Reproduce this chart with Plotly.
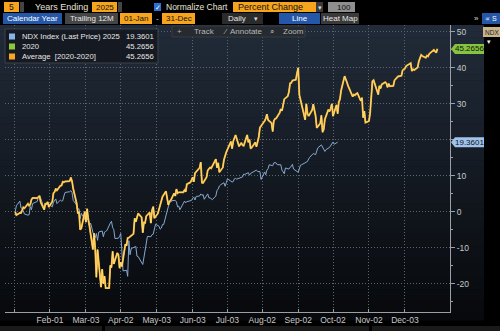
import plotly.graph_objects as go

# ---------------- data ----------------
# trading days per month (day numbers), 2020 and 2025
trading_days_2020 = [
    "2 3 6 7 8 9 10 13 14 15 16 17 21 22 23 24 27 28 29 30 31",
    "3 4 5 6 7 10 11 12 13 14 18 19 20 21 24 25 26 27 28",
    "2 3 4 5 6 9 10 11 12 13 16 17 18 19 20 23 24 25 26 27 30 31",
    "1 2 3 6 7 8 9 13 14 15 16 17 20 21 22 23 24 27 28 29 30",
    "1 4 5 6 7 8 11 12 13 14 15 18 19 20 21 22 26 27 28 29",
    "1 2 3 4 5 8 9 10 11 12 15 16 17 18 19 22 23 24 25 26 29 30",
    "1 2 6 7 8 9 10 13 14 15 16 17 20 21 22 23 24 27 28 29 30 31",
    "3 4 5 6 7 10 11 12 13 14 17 18 19 20 21 24 25 26 27 28 31",
    "1 2 3 4 8 9 10 11 14 15 16 17 18 21 22 23 24 25 28 29 30",
    "1 2 5 6 7 8 9 12 13 14 15 16 19 20 21 22 23 26 27 28 29 30",
    "2 3 4 5 6 9 10 11 12 13 16 17 18 19 20 23 24 25 27 30",
    "1 2 3 4 7 8 9 10 11 14 15 16 17 18 21 22 23 24 28 29 30 31",
]
trading_days_2025 = [
    "2 3 6 7 8 10 13 14 15 16 17 21 22 23 24 27 28 29 30 31",
    "3 4 5 6 7 10 11 12 13 14 18 19 20 21 24 25 26 27 28",
    "3 4 5 6 7 10 11 12 13 14 17 18 19 20 21 24 25 26 27 28 31",
    "1 2 3 4 7 8 9 10 11 14 15 16 17 21 22 23 24 25 28 29 30",
    "1 2 5 6 7 8 9 12 13 14 15 16 19 20 21 22 23 27 28 29 30",
    "2 3 4 5 6 9 10 11 12 13 16 17 18 20 23 24 25 26 27 30",
    "1 2 3 7 8 9 10 11 14 15 16 17 18 21 22 23 24 25 28 29 30 31",
    "1 4 5 6 7 8 11 12 13 14 15 18 19 20 21 22 25 26 27 28 29",
    "2 3 4 5 8 9 10 11 12 15 16 17 18 19 22 23 24 25 26 29 30",
    "1 2 3 6",
]

# NDX, percent change since first trading day of the year
pct_2020 = [
    0.00, -0.89, -0.27, -0.30, 0.45, 1.26, 1.02, 2.26, 1.73, 2.03, 3.40, 3.89, 3.81, 4.03, 4.46, 2.69, 0.61, 2.24, 2.20, 2.76, 1.34,
    2.87, 5.22, 5.58, 6.45, 5.96, 7.27, 7.35, 8.35, 8.23, 8.46, 8.54, 9.53, 8.54, 6.47, 2.33, -0.43, 0.05, -4.92, -4.62,
    0.05, -2.84, 0.86, -2.13, -3.85, -10.42, -5.96, -10.37, -18.14, -10.50, -20.88, -15.93, -19.90, -17.86, -21.17, -21.16, -14.87, -15.42, -10.98, -14.46, -11.39, -11.94,
    -15.61, -13.95, -15.15, -8.96, -9.40, -7.24, -7.15, -6.10, -1.81, -2.76, -1.11, -0.45, -1.52, -5.75, -2.95, -3.05, -1.19, -0.17, -3.10, 0.47, 1.44,
    -1.74, -0.43, 0.81, 1.60, 2.76, 4.21, 5.72, 3.59, 1.96, 2.91, 3.15, 5.16, 4.42, 6.34, 5.20, 5.43, 5.46, 6.08, 5.59, 7.70,
    8.18, 8.81, 9.62, 8.36, 10.73, 11.87, 12.18, 13.77, 8.13, 8.07, 9.63, 11.54, 12.11, 12.33, 12.11, 14.26, 14.65, 12.28, 13.61, 11.01, 12.34, 14.48,
    15.97, 16.58, 19.52, 17.60, 19.61, 20.62, 21.36, 18.20, 18.91, 19.18, 18.49, 18.38, 21.37, 19.34, 20.05, 17.60, 17.90, 19.30, 18.10, 19.60, 20.80, 23.40,
    24.60, 25.26, 25.89, 27.14, 25.55, 24.69, 22.35, 25.32, 25.84, 25.97, 27.53, 28.59, 28.06, 30.01, 31.31, 32.13, 33.28, 35.72, 35.82, 36.49, 36.70,
    38.54, 39.99, 32.47, 31.01, 25.58, 29.98, 27.27, 26.62, 28.27, 29.89, 28.22, 26.64, 23.30, 24.57, 26.81, 22.14, 22.96, 25.71, 28.39, 27.89, 28.69,
    30.0, 26.6, 29.7, 27.3, 30.5, 31.3, 33.7, 37.7, 37.0, 36.0, 35.0, 34.2, 32.0, 32.6, 32.4, 32.8, 33.0, 30.8, 31.7, 26.2, 28.0, 24.8,
    25.2, 27.4, 32.8, 36.3, 36.6, 34.0, 32.6, 35.0, 34.3, 35.4, 36.0, 35.7, 34.6, 35.6, 34.9, 35.0, 36.5, 36.9, 37.6, 37.8,
    39.3, 39.6, 39.8, 40.5, 41.0, 41.3, 39.1, 39.6, 39.4, 40.1, 41.8, 42.6, 43.6, 43.3, 42.8, 43.4, 43.2, 43.9, 45.0, 44.6, 44.2, 45.2656,
]
pct_2025 = [
    0.0, 1.7, 3.0, 1.1, 1.0, -0.6, -0.9, -0.8, 1.5, 0.6, 2.3, 2.9, 4.2, 4.4, 3.8, 0.8, 2.4, 2.2, 2.5, 2.2,
    1.4, 2.7, 3.1, 3.6, 2.3, 3.3, 3.0, 3.1, 4.4, 5.4, 5.6, 5.9, 5.4, 3.2, 1.9, 0.7, 0.9, -1.9, -0.4,
    -2.6, -2.3, -1.0, -3.8, -3.1, -6.9, -7.2, -6.0, -7.9, -5.6, -5.3, -6.9, -5.6, -5.4, -5.2, -3.1, -2.6, -4.4, -4.9, -7.4, -7.3,
    -6.8, -6.0, -10.9, -16.4, -16.2, -17.9, -8.0, -11.9, -10.2, -9.7, -9.6, -12.3, -12.4, -14.6, -12.4, -10.2, -7.8, -6.8, -6.9, -6.3, -6.2,
    -4.8, -3.4, -4.0, -4.8, -4.5, -3.5, -3.5, 0.4, 2.0, 2.7, 2.7, 3.1, 3.2, 2.8, 1.4, 1.6, 0.6, 3.0, 2.5, 2.9, 2.9,
    3.2, 3.8, 4.1, 3.3, 4.3, 4.4, 5.0, 4.6, 4.8, 3.5, 5.0, 3.9, 3.9, 3.4, 4.4, 6.0, 6.3, 7.2, 7.5, 8.1,
    7.1, 8.1, 9.2, 8.3, 8.4, 9.2, 9.3, 9.1, 9.4, 9.6, 9.7, 10.5, 10.4, 10.9, 10.2, 10.7, 10.9, 11.2, 11.6, 11.2, 11.3, 11.2,
    9.0, 11.1, 10.3, 11.6, 12.0, 13.1, 12.8, 13.6, 13.7, 13.6, 13.1, 13.1, 11.6, 11.0, 10.6, 12.2, 11.9, 12.4, 12.6, 13.2, 11.9,
    11.0, 11.9, 13.0, 13.1, 13.7, 14.0, 14.0, 14.7, 15.2, 16.2, 16.1, 15.9, 16.9, 17.8, 18.6, 17.8, 17.4, 16.8, 17.3, 17.9, 18.3,
    18.9, 19.4, 18.8, 19.3601,
]
pct_average = list(pct_2020)  # average over [2020-2020] is the 2020 path itself

tick_dates = ["01-01", "02-01", "03-03", "04-02", "05-03", "06-03", "07-03",
              "08-02", "09-02", "10-02", "11-02", "12-03"]
tick_labels = ["", "Feb-01", "Mar-03", "Apr-02", "May-03", "Jun-03", "Jul-03",
               "Aug-02", "Sep-02", "Oct-02", "Nov-02", "Dec-03"]
y_ticks = [-20, -10, 0, 10, 20, 30, 40, 50]
# the 20 label sits under the 2025 last-value tag
y_labels = ["-20", "-10", "0", "10", "", "30", "40", "50"]

legend_rows = [
    ("NDX Index (Last Price) 2025", "19.3601", "#86b4e8"),
    ("2020", "45.2656", "#8dc63f"),
    ("Average  [2020-2020]", "45.2656", "#f5a623"),
]


def calendar_dates(month_days):
    # all years share one calendar axis (2020 layout)
    out = []
    for m, days in enumerate(month_days, start=1):
        for d in days.split():
            out.append(f"2020-{m:02d}-{int(d):02d}")
    return out


x_2020 = calendar_dates(trading_days_2020)
x_2025 = calendar_dates(trading_days_2025)

# ---------------- figure ----------------
FONT = "Liberation Sans, Arial, sans-serif"
ORANGE = "#f7a41d"
BLUE_TAB = "#2557a8"
L, R, T, B = 5, 450, 25, 312


def X(px):
    return (px - L) / (R - L)


def Y(py):
    return (B - py) / (B - T)


fig = go.Figure()
fig.add_trace(go.Scatter(x=x_2025, y=pct_2025, mode="lines", name="NDX Index (Last Price) 2025",
                         line=dict(color="#86a8d0", width=1.0)))
fig.add_trace(go.Scatter(x=x_2020, y=pct_2020, mode="lines", name="2020",
                         line=dict(color="#8dc63f", width=1.0)))
fig.add_trace(go.Scatter(x=x_2020, y=pct_average, mode="lines", name="Average [2020-2020]",
                         line=dict(color="#efaa2c", width=1.9)))
fig.add_trace(go.Scatter(x=x_2020, y=pct_average, mode="lines", showlegend=False, hoverinfo="skip",
                         line=dict(color="#ffe48a", width=0.8)))

shapes = []
annos = []

# panel background gradient
n_strips = 48
top_c = (33, 43, 57)
bot_c = (7, 9, 12)
for i in range(n_strips):
    f = i / (n_strips - 1)
    c = tuple(round(top_c[k] + (bot_c[k] - top_c[k]) * f) for k in range(3))
    y0 = T + (B + 8 - T) * i / n_strips
    y1 = T + (B + 8 - T) * (i + 1) / n_strips
    shapes.append(dict(type="rect", xref="paper", yref="paper", layer="below",
                       x0=X(0), x1=X(484), y0=Y(y1 + 0.5), y1=Y(y0),
                       fillcolor=f"rgb{c}", line_width=0))


def box(x0, x1, y0, y1, fill, line=None):
    shapes.append(dict(type="rect", xref="paper", yref="paper", layer="above",
                       x0=X(x0), x1=X(x1), y0=Y(y1), y1=Y(y0), fillcolor=fill,
                       line=dict(width=1 if line else 0, color=line or fill)))


def text(px, py, s, color="#e6e6e6", size=8, anchor="left"):
    annos.append(dict(xref="paper", yref="paper", x=X(px), y=Y(py), text=s, showarrow=False,
                      xanchor=anchor, yanchor="middle", font=dict(family=FONT, size=size, color=color)))


# toolbar, first row
box(4, 19, 2, 12, ORANGE)
text(11.5, 7, "5", "#111", 8.5, "center")
box(20, 24, 2, 12, "#444")
text(33, 7, "Years Ending", "#e8e2d4", 9)
box(92, 117, 2, 12, ORANGE)
text(104.5, 7, "2025", "#111", 8, "center")
box(118, 122, 2, 12, "#444")
box(154, 161, 3, 11, "#2f6fd0")
text(157.5, 7, "✓", "#fff", 7, "center")
text(164, 7, "Normalize Chart", "#e8e2d4", 8.5)
box(233, 316, 2, 12, ORANGE)
text(236, 7, "Percent Change", "#111", 9)
box(316, 323, 2, 12, "#3a3a3a")
text(319.5, 7, "▾", "#ddd", 7, "center")
box(328, 355, 2, 12, "#8f8f8f")
text(353, 7, "100", "#111", 8, "right")

# toolbar, second row
box(3, 62, 13, 24, BLUE_TAB)
text(32.5, 18.5, "Calendar Year", "#fff", 8, "center")
box(65, 118, 13, 24, "#454545")
text(91.5, 18.5, "Trailing 12M", "#e6e6e6", 8, "center")
box(120, 152, 13, 24, ORANGE)
text(136, 18.5, "01-Jan", "#111", 8, "center")
text(157, 18.5, "-", "#ddd", 8, "center")
box(162, 195, 13, 24, ORANGE)
text(178.5, 18.5, "31-Dec", "#111", 8, "center")
box(222, 263, 13, 24, "#2b2b2b")
text(226, 18.5, "Daily", "#e6e6e6", 8)
text(256, 18.5, "▾", "#ddd", 7, "center")
box(279, 320, 13, 24, BLUE_TAB)
text(299.5, 18.5, "Line", "#fff", 8, "center")
box(321, 359, 13, 24, "#3a3a3a")
text(340, 18.5, "Heat Map", "#e6e6e6", 8, "center")
text(476, 18.5, "»", "#ddd", 8, "center")
box(482, 500, 13, 24, BLUE_TAB)
text(491, 18.5, "∝ S", "#fff", 7, "center")

# chart tools strip
box(172, 305, 26, 37, "#262b31", "#363c43")
text(175, 31.5, "+", "#b0b0b0", 8)
text(192, 31.5, "Track", "#b8b8b8", 8)
text(221, 31.5, "⁄", "#b0b0b0", 8)
text(228, 31.5, "Annotate", "#b8b8b8", 8)
text(268, 31.5, "⌕", "#b0b0b0", 8)
text(281, 31.5, "Zoom", "#b8b8b8", 8)

# ticker tag, top right
box(483, 500, 27, 37, "#c9b48c")
text(491.5, 32, "NDX", "#222", 6.5, "center")
text(489, 41, "▾", "#eee", 7, "center")

# legend panel
box(5, 158, 29, 63, "rgba(20,25,32,0.93)", "#3b424b")
for i, (name, val, col) in enumerate(legend_rows):
    cy = 36.5 + 10 * i
    box(9, 15, cy - 3, cy + 3, col)
    text(20, cy, name, "#e6e6e6", 7.7)
    text(156, cy, val, "#e6e6e6", 7.7, "right")

# last-value tags on the right axis
half = 5 / ((B - T) / 79.7)
for val, fill in ((pct_average[-1], "#86c440"), (pct_2025[-1], "#9fc4ec")):
    x0, x1, xp = X(455), X(484), X(451)
    shapes.append(dict(type="path", xref="paper", yref="y", layer="above",
                       path=f"M {xp},{val} L {x0},{val + half} L {x1},{val + half} "
                            f"L {x1},{val - half} L {x0},{val - half} Z",
                       fillcolor=fill, line_width=0))
    annos.append(dict(xref="paper", yref="y", x=X(469.5), y=val, text=f"{val:.4f}",
                      showarrow=False, xanchor="center", yanchor="middle",
                      font=dict(family=FONT, size=8, color="#111")))

# bottom status strip
box(0, 102, 326, 331, "#1a1a1a")
box(105, 369, 326, 331, "#1a1a1a")
box(372, 500, 326, 331, "#1a1a1a")

GRID = "#5d6670"
fig.update_layout(
    width=500, height=331,
    margin=dict(l=L, r=500 - R, t=T, b=331 - B),
    paper_bgcolor="#000000",
    plot_bgcolor="rgba(0,0,0,0)",
    showlegend=False,
    shapes=shapes,
    annotations=annos,
    font=dict(family=FONT, size=8, color="#c8c8c8"),
    xaxis=dict(
        type="date",
        range=["2019-12-24 05:00", "2021-01-10 21:00"],
        tickvals=["2020-" + d for d in tick_dates],
        ticktext=tick_labels,
        showgrid=True, gridcolor=GRID, griddash="1px,2px", gridwidth=1,
        showline=True, linecolor="#9aa0a6", linewidth=1,
        ticks="inside", ticklen=3, tickcolor="#9aa0a6",
        tickfont=dict(family=FONT, size=8.5, color="#c8c8c8"),
        zeroline=False, fixedrange=True,
    ),
    yaxis=dict(
        side="right",
        range=[-27.8, 51.9],
        tickvals=y_ticks,
        ticktext=y_labels,
        showgrid=True, gridcolor=GRID, griddash="1px,2px", gridwidth=1,
        showline=True, linecolor="#9aa0a6", linewidth=1,
        ticks="outside", ticklen=4, tickcolor="#9aa0a6",
        minor=dict(dtick=5, ticks="outside", ticklen=2, tickcolor="#9aa0a6", showgrid=False),
        tickfont=dict(family=FONT, size=8.5, color="#c8c8c8"),
        zeroline=False, fixedrange=True,
    ),
)

fig.write_html("out.html")
